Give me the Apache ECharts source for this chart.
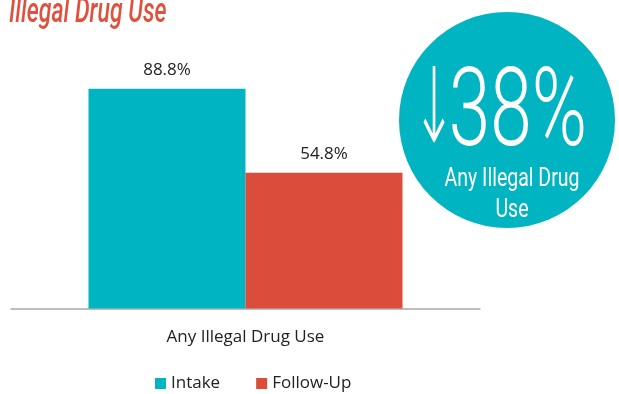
<!DOCTYPE html>
<html>
<head>
<meta charset="utf-8">
<style>
  html, body { margin: 0; padding: 0; background: #fff; }
  #chart { width: 619px; height: 394px; }
</style>
<script src="https://cdn.jsdelivr.net/npm/echarts@6/dist/echarts.min.js"></script>
</head>
<body>
<div id="chart"></div>
<script>
// data
const categories = ['Any Illegal Drug Use']
const seriesNames = ['Intake', 'Follow-Up']
const intakeValues = [88.8]
const followUpValues = [54.8]
const changeText = '38%'
const changeLabel = ['Any Illegal Drug', 'Use']

const TEAL = '#00b4c1'
const RED = '#dc4c3b'
const FONT = "'Open Sans', sans-serif"

const chart = echarts.init(document.getElementById('chart'))

const option = {
  animation: false,
  color: [TEAL, RED],
  grid: {
    left: 11,
    right: 139,
    top: 61,
    bottom: 85.5
  },
  legend: {
    data: seriesNames,
    left: 150,
    top: 370,
    icon: 'rect',
    itemWidth: 11,
    itemHeight: 11,
    itemGap: 36,
    textStyle: { fontSize: 17, color: '#222', fontFamily: FONT }
  },
  xAxis: {
    type: 'category',
    data: categories,
    axisLine: { lineStyle: { color: '#a8a8a8', width: 1.5 } },
    axisTick: { show: false },
    axisLabel: { margin: 20, fontSize: 17, color: '#222', fontFamily: FONT }
  },
  yAxis: {
    type: 'value',
    min: 0,
    max: 100,
    show: false,
    splitLine: { show: false }
  },
  series: [
    {
      name: seriesNames[0],
      type: 'bar',
      barWidth: 157,
      barGap: 0,
      data: intakeValues,
      label: {
        show: true, position: 'top', distance: 10,
        formatter: p => p.value.toFixed(1) + '%',
        fontSize: 17, color: '#222', fontFamily: FONT
      }
    },
    {
      name: seriesNames[1],
      type: 'bar',
      barWidth: 157,
      barGap: 0,
      data: followUpValues,
      label: {
        show: true, position: 'top', distance: 10,
        formatter: p => p.value.toFixed(1) + '%',
        fontSize: 17, color: '#222', fontFamily: FONT
      }
    }
  ],
  graphic: [
    {
      type: 'text',
      x: 9, y: 13.5,
      scaleX: 0.66,
      style: {
        text: 'Illegal Drug Use',
        fontFamily: 'Roboto', fontStyle: 'italic', fontWeight: 500, fontSize: 35,
        fill: '#e0503c', align: 'left', verticalAlign: 'middle'
      }
    },
    {
      type: 'circle',
      shape: { cx: 507, cy: 120, r: 108 },
      style: { fill: TEAL }
    },
    {
      type: 'text',
      x: 434, y: 115,
      scaleX: 0.5,
      style: {
        text: '↓',
        fontFamily: "'DejaVu Sans'", fontWeight: 300, fontSize: 104,
        fill: '#fff', align: 'center', verticalAlign: 'middle'
      }
    },
    {
      type: 'text',
      x: 518, y: 117,
      scaleX: 0.68,
      style: {
        text: changeText,
        fontFamily: 'Roboto', fontWeight: 300, fontSize: 110,
        fill: '#fff', align: 'center', verticalAlign: 'middle'
      }
    },
    {
      type: 'text',
      x: 512, y: 180,
      scaleX: 0.78,
      style: {
        text: changeLabel[0],
        fontFamily: 'Roboto', fontSize: 25,
        fill: '#fff', align: 'center', verticalAlign: 'middle'
      }
    },
    {
      type: 'text',
      x: 512, y: 211,
      scaleX: 0.78,
      style: {
        text: changeLabel[1],
        fontFamily: 'Roboto', fontSize: 25,
        fill: '#fff', align: 'center', verticalAlign: 'middle'
      }
    }
  ]
}

chart.setOption(option)
</script>
</body>
</html>
